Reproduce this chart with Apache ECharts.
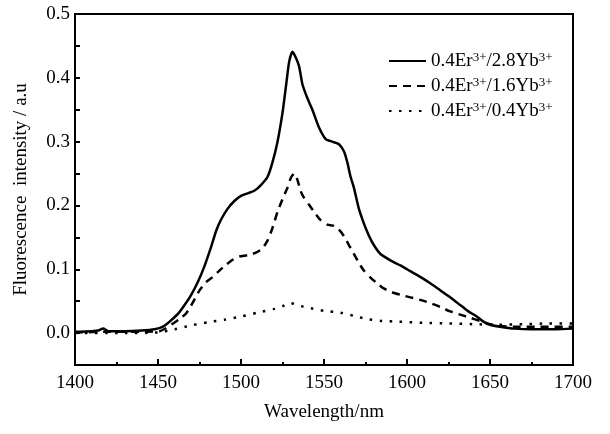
<!DOCTYPE html>
<html>
<head>
<meta charset="UTF-8">
<title>Fluorescence spectra</title>
<script src="https://cdn.jsdelivr.net/npm/echarts@6/dist/echarts.min.js"></script>
</head>
<body style="margin:0">
<div id="container" style="width:610px;height:434px;"></div>
<script type="text/javascript">
// 0.4Er/2.8Yb (solid)
var wlA = [1400,1410,1414,1417,1420,1430,1440,1448,1453,1457,1462,1466,1470,1474,1478,1482,1485,1488,1492,1496,1500,1504,1508,1512,1516,1519,1522,1525,1527,1529,1531,1533,1535,1537,1540,1543,1547,1551,1555,1559,1562,1564,1566,1568,1571,1574,1577,1580,1584,1590,1596,1602,1608,1614,1620,1626,1632,1637,1642,1646,1650,1656,1665,1675,1690,1700];
var valA = [0.002,0.003,0.004,0.007,0.003,0.003,0.004,0.006,0.010,0.018,0.030,0.044,0.060,0.080,0.105,0.135,0.160,0.178,0.195,0.207,0.215,0.219,0.223,0.232,0.245,0.268,0.300,0.345,0.385,0.425,0.441,0.432,0.418,0.390,0.368,0.350,0.322,0.304,0.300,0.296,0.285,0.268,0.245,0.228,0.195,0.172,0.153,0.138,0.124,0.114,0.106,0.097,0.088,0.078,0.067,0.056,0.044,0.034,0.026,0.018,0.013,0.010,0.007,0.006,0.006,0.007];
// 0.4Er/1.6Yb (dashed)
var wlB = [1400,1420,1440,1451,1455,1459,1463,1467,1471,1475,1479,1483,1487,1491,1495,1499,1504,1509,1513,1516,1519,1522,1525,1528,1530,1532,1534,1536,1538,1541,1544,1548,1552,1556,1559,1562,1565,1568,1571,1574,1578,1582,1586,1591,1596,1602,1608,1614,1620,1626,1632,1638,1644,1650,1656,1665,1680,1700];
var valB = [0.001,0.002,0.002,0.003,0.008,0.015,0.022,0.031,0.048,0.067,0.080,0.088,0.098,0.107,0.115,0.120,0.122,0.126,0.133,0.145,0.165,0.190,0.210,0.228,0.243,0.250,0.240,0.222,0.212,0.201,0.190,0.177,0.170,0.168,0.162,0.152,0.138,0.124,0.110,0.098,0.087,0.078,0.070,0.064,0.060,0.056,0.052,0.047,0.041,0.034,0.029,0.024,0.019,0.014,0.011,0.010,0.010,0.010];
// 0.4Er/0.4Yb (dotted)
var wlC = [1400,1430,1450,1460,1470,1480,1490,1500,1510,1520,1525,1530,1535,1540,1550,1560,1568,1576,1585,1595,1610,1625,1640,1655,1670,1685,1700];
var valC = [0.000,0.000,0.001,0.006,0.012,0.017,0.021,0.026,0.032,0.038,0.042,0.047,0.043,0.040,0.035,0.032,0.027,0.022,0.019,0.018,0.016,0.015,0.014,0.013,0.014,0.015,0.015];

var seriesNames = ['0.4Er3+/2.8Yb3+', '0.4Er3+/1.6Yb3+', '0.4Er3+/0.4Yb3+'];
var legendRich = {
	'0.4Er3+/2.8Yb3+': '{m|0.4Er}{s|3+}{m|/2.8Yb}{s|3+}',
	'0.4Er3+/1.6Yb3+': '{m|0.4Er}{s|3+}{m|/1.6Yb}{s|3+}',
	'0.4Er3+/0.4Yb3+': '{m|0.4Er}{s|3+}{m|/0.4Yb}{s|3+}'
};

function pairs(xs, ys) {
	var out = [];
	for (var i = 0; i < xs.length; i++) out.push([xs[i], ys[i]]);
	return out;
}

var font = 'Liberation Serif';
var myChart = echarts.init(document.getElementById('container'));

var option = {
	animation: false,
	backgroundColor: '#fff',
	textStyle: { fontFamily: font, color: '#000' },
	grid: {
		left: 75, right: 37, top: 14, bottom: 69,
		show: true, borderColor: '#000', borderWidth: 2
	},
	legend: {
		orient: 'vertical',
		left: 383, top: 42,
		itemWidth: 37, itemHeight: 14, itemGap: 1,
		data: seriesNames,
		itemStyle: { opacity: 0 },
		formatter: function (name) { return legendRich[name]; },
		textStyle: {
			fontFamily: font, fontSize: 19, color: '#000',
			rich: {
				m: { fontFamily: font, fontSize: 19, lineHeight: 20, padding: [5, 0, 0, 0], verticalAlign: 'bottom', color: '#000' },
				s: { fontFamily: font, fontSize: 13, lineHeight: 13, verticalAlign: 'top', color: '#000' }
			}
		}
	},
	xAxis: {
		type: 'value',
		min: 1400, max: 1700, interval: 50,
		name: 'Wavelength/nm',
		nameLocation: 'middle',
		nameGap: 38,
		nameTextStyle: { fontFamily: font, fontSize: 19, color: '#000' },
		axisLine: { onZero: false, lineStyle: { color: '#000', width: 2 } },
		axisTick: { inside: true, length: 6, lineStyle: { color: '#000', width: 2 } },
		minorTick: { show: true, splitNumber: 2, length: 3, lineStyle: { color: '#000', width: 2 } },
		axisLabel: {
			fontFamily: font, fontSize: 19, color: '#000', margin: 9,
			formatter: function (v) { return String(v); }
		},
		splitLine: { show: false }
	},
	yAxis: {
		type: 'value',
		min: -0.05, max: 0.5, interval: 0.05,
		name: 'Fluorescence  intensity / a.u',
		nameLocation: 'middle',
		nameGap: 44,
		nameTextStyle: { fontFamily: font, fontSize: 19, color: '#000' },
		axisLine: { onZero: false, lineStyle: { color: '#000', width: 2 } },
		axisTick: { inside: true, length: 5, lineStyle: { color: '#000', width: 2 } },
		axisLabel: {
			fontFamily: font, fontSize: 19, color: '#000', margin: 5,
			formatter: function (v) {
				var k = Math.round(v * 100);
				if (k < 0 || k % 10 !== 0) return '';
				return (k / 100).toFixed(1);
			}
		},
		splitLine: { show: false }
	},
	series: [
		{
			name: seriesNames[0], type: 'line', data: pairs(wlA, valA),
			showSymbol: false, symbol: 'none', smooth: 0.2,
			lineStyle: { color: '#000', width: 2.5, type: 'solid' },
			itemStyle: { color: '#000' }
		},
		{
			name: seriesNames[1], type: 'line', data: pairs(wlB, valB),
			showSymbol: false, symbol: 'none', smooth: 0.2,
			lineStyle: { color: '#000', width: 2.5, type: [8, 6] },
			itemStyle: { color: '#000' }
		},
		{
			name: seriesNames[2], type: 'line', data: pairs(wlC, valC),
			showSymbol: false, symbol: 'none', smooth: 0.2,
			lineStyle: { color: '#000', width: 2.5, type: [2.5, 7.5] },
			itemStyle: { color: '#000' }
		}
	]
};
myChart.setOption(option);
</script>
</body>
</html>
